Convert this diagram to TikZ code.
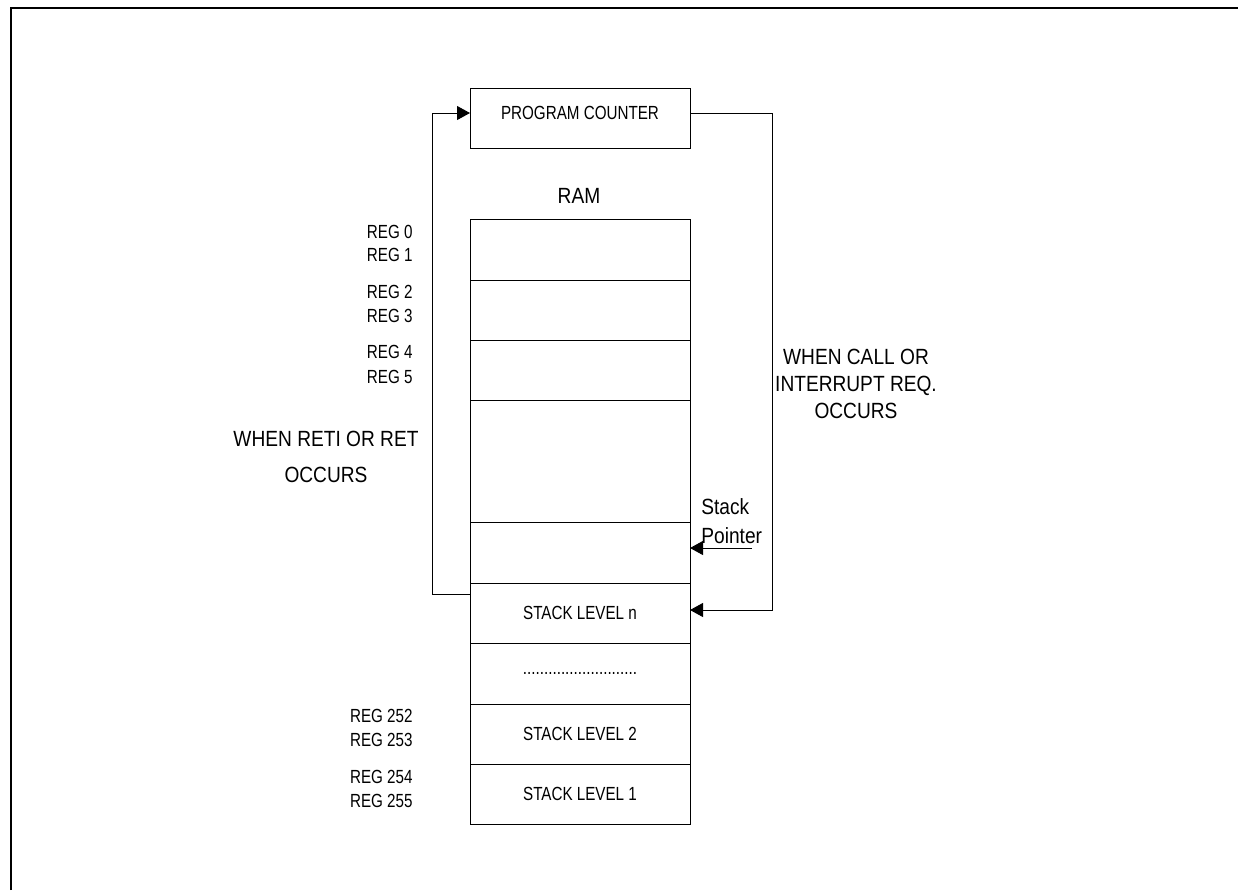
\documentclass[tikz,border=0pt]{standalone}
\usepackage{fontspec}
\setmainfont{Liberation Sans}
\newfontfamily\smallface[FakeStretch=0.8]{Liberation Sans}
\newfontfamily\bigface[FakeStretch=0.87]{Liberation Sans}
\usetikzlibrary{arrows.meta,positioning,calc}
\newcommand{\dotrow}{...........................}
\tikzset{
  cell/.style={rectangle, draw, line width=0.5pt, minimum width=110pt,
               inner sep=0pt, outer sep=0pt, font=\smallface\fontsize{9.5}{11}\selectfont},
  pcbox/.style={rectangle, draw, line width=0.5pt, minimum width=110pt,
                minimum height=30pt, inner sep=0pt, outer sep=0pt},
  smalllbl/.style={inner sep=0pt, font=\smallface\fontsize{9.5}{11}\selectfont},
  biglbl/.style={inner sep=0pt, font=\bigface\fontsize{11}{13}\selectfont},
  flow/.style={line width=0.5pt, -{Triangle[length=6.5pt,width=7pt]}},
}

\begin{document}
\begin{tikzpicture}[x=0.5pt,y=-0.5pt]
  \useasboundingbox (0,0) rectangle (1238,890);
  \draw[line width=1pt] (11,890) -- (11,8) -- (1238,8);

  % Program counter
  \node[pcbox] (pc) at (580,118) {};
  \node[smalllbl] (pclbl) at (580,113) {PROGRAM COUNTER};

  % RAM cells
  \node[biglbl] (ramlbl) at (579,196) {RAM};
  \foreach \n/\t/\b/\lbl in {
      1/219/280/, 2/280/340/, 3/340/400/, 4/400/522/, 5/522/583/,
      6/583/643/STACK LEVEL n, 7/643/704/\dotrow,
      8/704/764/STACK LEVEL 2, 9/764/824/STACK LEVEL 1}{
    \node[cell, minimum height={(\b-\t)*0.5pt}] (c\n) at (580,{(\t+\b)/2}) {\lbl};
  }

  % Register names
  \foreach \y/\r in {232/0, 255/1, 292/2, 316/3, 352/4, 377/5,
                     716/252, 740/253, 777/254, 801/255}
    \node[smalllbl, anchor=east] (reg\r) at (413,\y) {REG \r};

  % Notes
  \node[biglbl, align=center, font=\bigface\fontsize{11}{13.5}\selectfont] (calltxt) at (856,384)
    {WHEN CALL OR\\INTERRUPT REQ.\\OCCURS};
  \node[biglbl, align=center, font=\bigface\fontsize{11}{18}\selectfont] (rettxt) at (326,457)
    {WHEN RETI OR RET\\OCCURS};
  \node[biglbl, anchor=west] (sptop) at (701,507) {Stack};
  \node[biglbl, anchor=west] (spbot) at (701,536) {Pointer};

  % Arrows
  \coordinate (sptail) at (752,548);
  \draw[flow] (sptail) -- (c5.east |- sptail);
  \draw[flow] ([yshift=2.5pt]pc.east) -- ++(82,0) |- ([yshift=1.5pt]c6.east);
  \draw[flow] ([yshift=9.5pt]c6.west) -- ++(-38,0) |- ([yshift=2.5pt]pc.west);
\end{tikzpicture}
\end{document}
